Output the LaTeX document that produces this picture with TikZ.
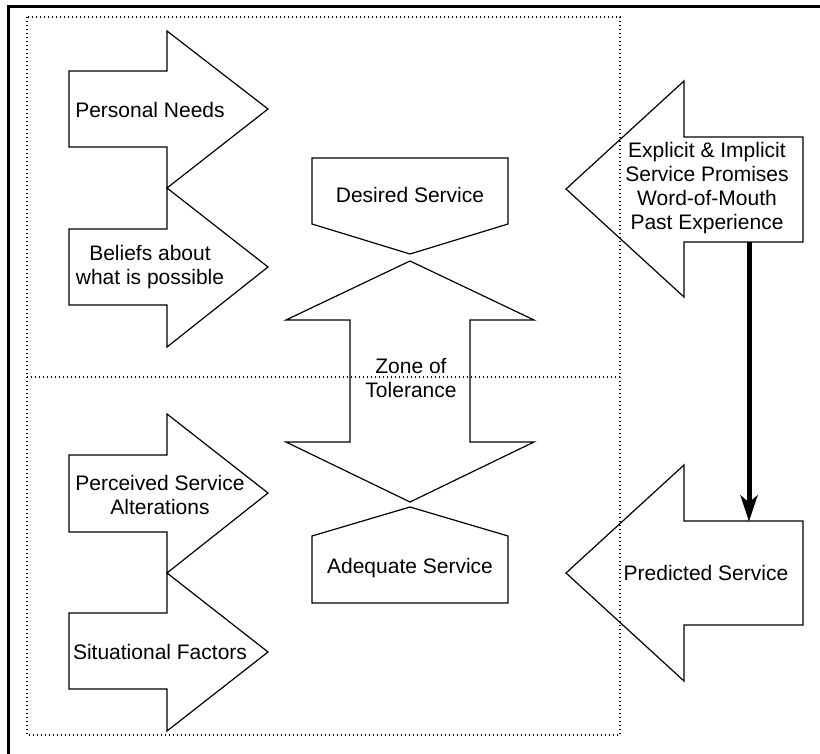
\documentclass[tikz,border=0pt]{standalone}
\usepackage{fontspec}
\setmainfont{Liberation Sans}
\usetikzlibrary{arrows.meta}
\begin{document}
\begin{tikzpicture}[x=1pt,y=-1pt,
  shapeline/.style={draw=black,line width=1.2pt,line join=miter},
  label/.style={align=center,inner sep=0pt,font=\fontsize{21}{24}\selectfont},
  zoneline/.style={draw=black,line width=1.3pt,dash pattern=on 1.3pt off 2.7pt},
  framerule/.style={draw=black,line width=3pt},
  flowarrow/.style={draw=black,line width=5pt,-{Stealth[length=26pt,width=17pt,inset=7pt]}}]
\useasboundingbox (0,0) rectangle (820,754);

% outer frame (top and left edges)
\draw[framerule] (7,7) -- (820,7);
\draw[framerule] (8.5,7) -- (8.5,754);

% dotted zones
\draw[zoneline] (27,17) rectangle (620,735);
\draw[zoneline] (27,377) -- (620,377);

% left-hand arrows (pointing right)
\draw[shapeline] (69,71) -- (167,71) -- (167,31) -- (268,109) -- (167,188) -- (167,147) -- (69,147) -- cycle;
\draw[shapeline] (69,229) -- (167,229) -- (167,188) -- (268,267) -- (167,347) -- (167,305) -- (69,305) -- cycle;
\draw[shapeline] (69,455) -- (167,455) -- (167,414) -- (268,493) -- (167,573) -- (167,532) -- (69,532) -- cycle;
\draw[shapeline] (69,613) -- (167,613) -- (167,573) -- (268,652) -- (167,731) -- (167,689) -- (69,689) -- cycle;

\node[label] (needs) at (150,110) {Personal Needs};
\node[label] (beliefs) at (150,267) {Beliefs about\\what is possible};
\node[label] (alter) at (160,495) {Perceived Service\\Alterations};
\node[label] (situ) at (160,652) {Situational Factors};

% desired / adequate service pentagons
\draw[shapeline] (312,158) -- (508,158) -- (508,224) -- (410,254) -- (312,224) -- cycle;
\draw[shapeline] (410,507) -- (508,536) -- (508,603) -- (312,603) -- (312,536) -- cycle;
\node[label] (desired) at (410,195) {Desired Service};
\node[label] (adequate) at (410,568) {Adequate Service};

% zone of tolerance double arrow
\draw[shapeline] (410,261) -- (534,320) -- (470,320) -- (470,442) -- (534,442) -- (410,502)
  -- (286,442) -- (350,442) -- (350,320) -- (286,320) -- cycle;
\node[label] (zone) at (411,378) {Zone of\\Tolerance};

% right-hand arrows (pointing left)
\draw[shapeline] (566,189) -- (684,81) -- (684,137) -- (803,137) -- (803,242) -- (684,242) -- (684,297) -- cycle;
\draw[shapeline] (566,573) -- (684,465) -- (684,521) -- (803,521) -- (803,625) -- (684,625) -- (684,681) -- cycle;
\node[label] (promises) at (707,188) {Explicit \& Implicit\\Service Promises\\Word-of-Mouth\\Past Experience};
\node[label] (predicted) at (706,573) {Predicted Service};

% connector between the two right-hand arrows
\coordinate (promises-base) at (749,242);
\coordinate (predicted-top) at (749,521.5);
\draw[flowarrow] (promises-base) -- (predicted-top);
\end{tikzpicture}
\end{document}
